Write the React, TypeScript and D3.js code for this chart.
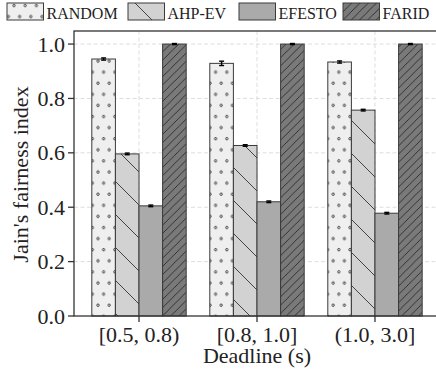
import React from "react";
import * as d3 from "d3";

const categories = ["[0.5, 0.8)", "[0.8, 1.0]", "(1.0, 3.0]"];
const series = ["RANDOM", "AHP-EV", "EFESTO", "FARID"];
const values = [
  [0.945, 0.929, 0.934],
  [0.596, 0.627, 0.757],
  [0.405, 0.42, 0.378],
  [1.0, 1.0, 1.0],
];
const errors = [
  [0.004, 0.008, 0.004],
  [0.003, 0.003, 0.003],
  [0.003, 0.003, 0.003],
  [0.002, 0.002, 0.002],
];
const yTicks = [0, 0.2, 0.4, 0.6, 0.8, 1.0];

const fills = ["url(#dots)", "url(#back)", "#aaaaaa", "url(#fwd)"];
const legendX = [7, 128, 239, 343];

const W = 436;
const H = 374;
const left = 74;
const right = 440;
const top = 31;
const bottom = 316;
const txt = (size: number) => ({ fontFamily: "Liberation Serif", fontSize: size, fill: "#222" });

const App = () => {
  const x = d3
    .scaleBand<string>()
    .domain(categories)
    .range([left, right])
    .paddingInner(0)
    .paddingOuter(0.051);
  const y = d3.scaleLinear().domain([0, 1.048]).range([bottom, top]);
  const bw = x.step() * 0.2;
  const cx = (c: string) => (x(c) as number) + x.bandwidth() / 2;

  const s1 = 33;
  const s2 = 8.25;

  return (
    <svg
      width={W}
      height={H}
      style={{ position: "fixed", left: 0, top: 0, background: "#fff" }}
    >
      <defs>
        <pattern id="dots" patternUnits="userSpaceOnUse" width={11.2} height={22.2}>
          <rect width={11.2} height={22.2} fill="#efefef" />
          <circle cx={2.8} cy={5.5} r={1.2} fill="none" stroke="#333" strokeWidth={0.9} />
          <circle cx={8.4} cy={16.6} r={1.2} fill="none" stroke="#333" strokeWidth={0.9} />
        </pattern>
        <pattern id="back" patternUnits="userSpaceOnUse" width={s1} height={s1}>
          <rect width={s1} height={s1} fill="#d2d2d2" />
          <path
            d={`M-1,-1L${s1 + 1},${s1 + 1}M-1,${s1 - 1}L1,${s1 + 1}M${s1 - 1},-1L${s1 + 1},1`}
            stroke="#333"
            strokeWidth={0.9}
          />
        </pattern>
        <pattern id="fwd" patternUnits="userSpaceOnUse" width={s2} height={s2}>
          <rect width={s2} height={s2} fill="#7a7a7a" />
          <path
            d={`M-1,${s2 + 1}L${s2 + 1},-1M-1,1L1,-1M${s2 - 1},${s2 + 1}L${s2 + 1},${s2 - 1}`}
            stroke="#2a2a2a"
            strokeWidth={0.9}
          />
        </pattern>
      </defs>

      {/* grid */}
      {yTicks.slice(1).map((t) => (
        <line
          key={"gy" + t}
          x1={left}
          x2={right}
          y1={y(t)}
          y2={y(t)}
          stroke="#dddddd"
          strokeDasharray="4,2.5"
        />
      ))}
      {categories.map((c) => (
        <line
          key={"gx" + c}
          x1={cx(c)}
          x2={cx(c)}
          y1={top}
          y2={bottom}
          stroke="#dddddd"
          strokeDasharray="4,2.5"
        />
      ))}

      {/* bars */}
      {series.map((s, si) =>
        categories.map((c, ci) => {
          const v = values[si][ci];
          const bx = cx(c) + (si - 2) * bw;
          return (
            <rect
              key={s + c}
              x={bx}
              y={y(v)}
              width={bw}
              height={bottom - y(v)}
              fill={fills[si]}
              stroke="#3a3a3a"
              strokeWidth={1}
            />
          );
        })
      )}

      {/* error bars */}
      {series.map((s, si) =>
        categories.map((c, ci) => {
          const v = values[si][ci];
          const e = errors[si][ci];
          const mx = cx(c) + (si - 1.5) * bw;
          return (
            <g key={"e" + s + c} stroke="#000" strokeWidth={1.4}>
              <line x1={mx} x2={mx} y1={y(v - e)} y2={y(v + e)} />
              <line x1={mx - 2.5} x2={mx + 2.5} y1={y(v - e)} y2={y(v - e)} />
              <line x1={mx - 2.5} x2={mx + 2.5} y1={y(v + e)} y2={y(v + e)} />
            </g>
          );
        })
      )}

      {/* frame */}
      <rect
        x={left}
        y={top}
        width={right - left}
        height={bottom - top}
        fill="none"
        stroke="#333"
        strokeWidth={1.3}
      />

      {/* y axis */}
      {yTicks.map((t) => (
        <g key={"yt" + t}>
          <line x1={left - 6} x2={left} y1={y(t)} y2={y(t)} stroke="#333" strokeWidth={1.3} />
          <text x={left - 9} y={y(t) + 7.5} textAnchor="end" style={txt(22)}>
            {t.toFixed(1)}
          </text>
        </g>
      ))}
      <text
        transform={`translate(28,${(top + bottom) / 2 + 1}) rotate(-90)`}
        textAnchor="middle"
        style={txt(22)}
      >
        Jain's fairness index
      </text>

      {/* x axis */}
      {categories.map((c) => (
        <g key={"xt" + c}>
          <line x1={cx(c)} x2={cx(c)} y1={bottom} y2={bottom + 6} stroke="#333" strokeWidth={1.3} />
          <text x={cx(c)} y={342} textAnchor="middle" style={txt(22)}>
            {c}
          </text>
        </g>
      ))}
      <text x={(left + right) / 2} y={363} textAnchor="middle" style={txt(22)}>
        Deadline (s)
      </text>

      {/* legend */}
      {series.map((s, si) => (
        <g key={"lg" + s}>
          <rect
            x={legendX[si]}
            y={3}
            width={36.5}
            height={17}
            fill={fills[si]}
            stroke="#3a3a3a"
            strokeWidth={1}
          />
          <text x={legendX[si] + 39.5} y={19} style={txt(16)}>
            {s}
          </text>
        </g>
      ))}
    </svg>
  );
};

export default App;
